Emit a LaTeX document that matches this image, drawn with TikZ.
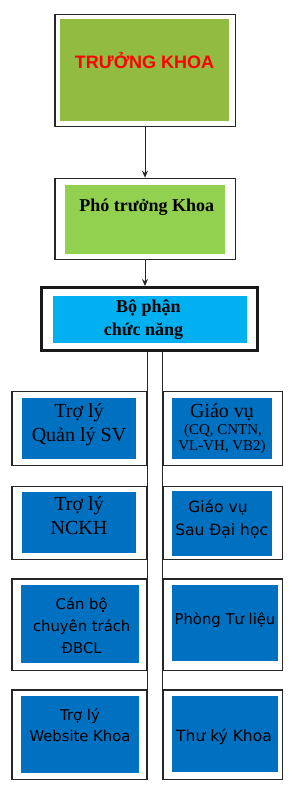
\documentclass[tikz,border=0pt]{standalone}
\usepackage{fontspec}
\setmainfont{Liberation Serif}
\newfontfamily\sansf{DejaVu Sans}
\newfontfamily\arialf{Liberation Sans}
\usetikzlibrary{arrows.meta}
\definecolor{gA}{HTML}{92BC41}
\definecolor{gB}{HTML}{92D050}
\definecolor{cyanbox}{HTML}{00B0F0}
\definecolor{bluebox}{HTML}{0070C0}
\begin{document}
\begin{tikzpicture}[x=1pt,y=-1pt,
  frame/.style n args={2}{draw=black!85,line width=1.2pt,fill=white,inner sep=0pt,minimum width=#1,minimum height=#2},
  fillbox/.style n args={3}{fill=#1,draw=none,inner sep=0pt,minimum width=#2,minimum height=#3},
  txt/.style={anchor=base,inner sep=0pt},
  serifR/.style={txt,font=\fontsize{20}{24}\selectfont},
  serifB/.style={txt,font=\bfseries\fontsize{18}{22}\selectfont},
  sansR/.style={txt,font=\sansf\fontsize{14.8}{18}\selectfont},
  conn/.style={draw=black!85,line width=1pt},
  arr/.style={conn,-{Stealth[length=7pt,width=6pt]}}
]
\useasboundingbox (0,0) rectangle (293,791);
% Truong khoa
\node[frame={180.2}{112.4}] (tkO) at (145,70.5) {};
\node[fillbox={gA}{169}{101.7}] (tkI) at (144.5,69.85) {};
\node[txt,font=\arialf\bfseries\fontsize{18}{21}\selectfont,text=red] (tkT) at (144.5,68.3) {TRƯỞNG KHOA};
% Pho truong khoa
\node[frame={180.2}{81.4}] (ptO) at (145,219) {};
\node[fillbox={gB}{160.6}{68.7}] (ptI) at (145,219.35) {};
\node[serifB] (ptT) at (146.7,211.7) {Phó trưởng Khoa};
% Bo phan chuc nang
\node[frame={216.3}{63.3},line width=3pt,draw=black!90] (bpO) at (149.65,319.15) {};
\node[fillbox={cyanbox}{194.3}{47}] (bpI) at (149.85,319.2) {};
\node[serifB] (bpT1) at (148.3,312.7) {Bộ phận};
\node[serifB] (bpT2) at (143.5,335) {chức năng};
% arrows
\draw[arr] (tkO.south) -- (ptO.north);
\draw[arr] (ptO.south) -- (ptO.south |- bpO.north);
% Row 1
\node[frame={134.5}{73.5}] (r1L) at (79.15,428.35) {};
\node[fillbox={bluebox}{114.6}{60.7}] (r1Li) at (79,428.65) {};
\node[serifR] (r1La) at (79,417.3) {Trợ lý};
\node[serifR] (r1Lb) at (79,441.7) {Quản lý SV};
\node[frame={119.2}{73.5}] (r1R) at (222.5,428.35) {};
\node[fillbox={bluebox}{99.7}{60.7}] (r1Ri) at (222.15,428.65) {};
\node[serifR] (r1Ra) at (222,417.3) {Giáo vụ};
\node[txt,font=\fontsize{15}{17}\selectfont] (r1Rb) at (223,434) {(CQ, CNTN,};
\node[txt,font=\fontsize{15}{17}\selectfont] (r1Rc) at (222,450.7) {VL-VH, VB2)};
% Row 2
\node[frame={134.5}{73.1}] (r2L) at (79.15,522.85) {};
\node[fillbox={bluebox}{114.6}{60.7}] (r2Li) at (79,522.65) {};
\node[serifR] (r2La) at (79,510.7) {Trợ lý};
\node[serifR] (r2Lb) at (79,534) {NCKH};
\node[frame={119.2}{73.1}] (r2R) at (222.5,522.85) {};
\node[fillbox={bluebox}{100}{64.7}] (r2Ri) at (222,523.35) {};
\node[sansR,font=\sansf\fontsize{15.5}{18}\selectfont] (r2Ra) at (218,512.7) {Giáo vụ};
\node[sansR,font=\sansf\fontsize{15.5}{18}\selectfont] (r2Rb) at (221.7,535.7) {Sau Đại học};
% Row 3
\node[frame={134.5}{91.2}] (r3L) at (79.15,624.5) {};
\node[fillbox={bluebox}{117.7}{77.7}] (r3Li) at (79.85,623.85) {};
\node[sansR] (r3La) at (81.7,609) {Cán bộ};
\node[sansR] (r3Lb) at (81.7,631.3) {chuyên trách};
\node[sansR] (r3Lc) at (81.7,653.3) {ĐBCL};
\node[frame={119.2}{91.2}] (r3R) at (222.5,624.5) {};
\node[fillbox={bluebox}{105.7}{75.7}] (r3Ri) at (224.85,622.85) {};
\node[sansR] (r3Ra) at (225,624) {Phòng Tư liệu};
% Row 4
\node[frame={134.5}{89.5}] (r4L) at (79.15,734.65) {};
\node[fillbox={bluebox}{117.7}{77.3}] (r4Li) at (79.85,734.65) {};
\node[sansR] (r4La) at (80,720) {Trợ lý};
\node[sansR] (r4Lb) at (80,741.7) {Website Khoa};
\node[frame={119.2}{89.5}] (r4R) at (222.5,734.65) {};
\node[fillbox={bluebox}{105.7}{75.7}] (r4Ri) at (224.85,733.85) {};
\node[sansR,font=\sansf\fontsize{15.5}{18}\selectfont] (r4Ra) at (224,741) {Thư ký Khoa};
% vertical connectors
\draw[conn] (bpO.south -| r1L.east) -- (r4L.south east);
\draw[conn] (bpO.south -| r1R.west) -- (r4R.south west);
\end{tikzpicture}
\end{document}
